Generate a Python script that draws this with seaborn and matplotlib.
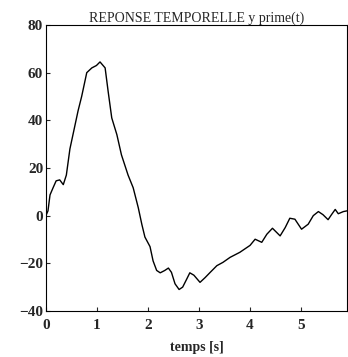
import matplotlib
matplotlib.use("Agg")
import matplotlib.pyplot as plt
import seaborn as sns
import pandas as pd

t = [0, 0.04, 0.08, 0.14, 0.2, 0.27, 0.34, 0.4, 0.47, 0.54, 0.63, 0.70, 0.80, 0.9,
     0.99, 1.06, 1.16, 1.22, 1.29, 1.39, 1.48, 1.61, 1.71, 1.81, 1.88, 1.94, 2.04,
     2.1, 2.17, 2.24, 2.33, 2.4, 2.46, 2.53, 2.61, 2.68, 2.76, 2.82, 2.9, 3.02, 3.12,
     3.22, 3.35, 3.47, 3.61, 3.8, 4.0, 4.1, 4.23, 4.33, 4.44, 4.59, 4.69, 4.78, 4.88,
     5.01, 5.14, 5.24, 5.34, 5.43, 5.53, 5.6, 5.67, 5.73, 5.83, 5.9]
y = [0, 2, 8.7, 11.7, 14.6, 15, 13, 17, 28, 35, 44, 50, 60, 62, 63, 64.5, 62, 52,
     41, 34, 25.5, 17, 11.7, 3.3, -3.7, -9, -13, -19, -23, -24, -23, -22, -23.8,
     -28.6, -31, -30, -26.6, -24, -25, -28, -26, -23.8, -21, -19.6, -17.5, -15.4,
     -12.5, -9.9, -11.2, -7.8, -5.3, -8.5, -5, -1.1, -1.5, -5.7, -3.6, 0, 1.7, 0.4,
     -1.7, 0.5, 2.6, 0.8, 1.7, 2]
xticks = [0, 1, 2, 3, 4, 5]
yticks = [-40, -20, 0, 20, 40, 60, 80]
title = "REPONSE TEMPORELLE y prime(t)"
xlabel = "temps [s]"

sns.set_style("ticks")
plt.rcParams['font.family'] = ['Liberation Serif', 'DejaVu Serif']

df = pd.DataFrame({"t": t, "y": y})
fig = plt.figure(figsize=(3.48, 3.57), dpi=100)
ax = fig.add_axes([0.132, 0.129, 0.865, 0.801])
sns.lineplot(data=df, x="t", y="y", ax=ax, color="black", linewidth=1.0)
ax.set_xlim(0, 5.9)
ax.set_ylim(-40, 80)
ax.set_xticks(xticks)
ax.set_yticks(yticks)
ax.tick_params(direction="in", length=3, width=0.8, labelsize=11, pad=2)
ax.tick_params(axis="x", pad=6)
for lab in ax.get_xticklabels() + ax.get_yticklabels():
    lab.set_fontweight("bold")
for s in ax.spines.values():
    s.set_linewidth(0.8)
    s.set_color("black")
ax.set_title(title, fontsize=10, pad=0)
ax.set_xlabel(xlabel, fontsize=10, fontweight="bold", labelpad=6)
ax.set_ylabel("")
fig.savefig("out.png", dpi=100)
